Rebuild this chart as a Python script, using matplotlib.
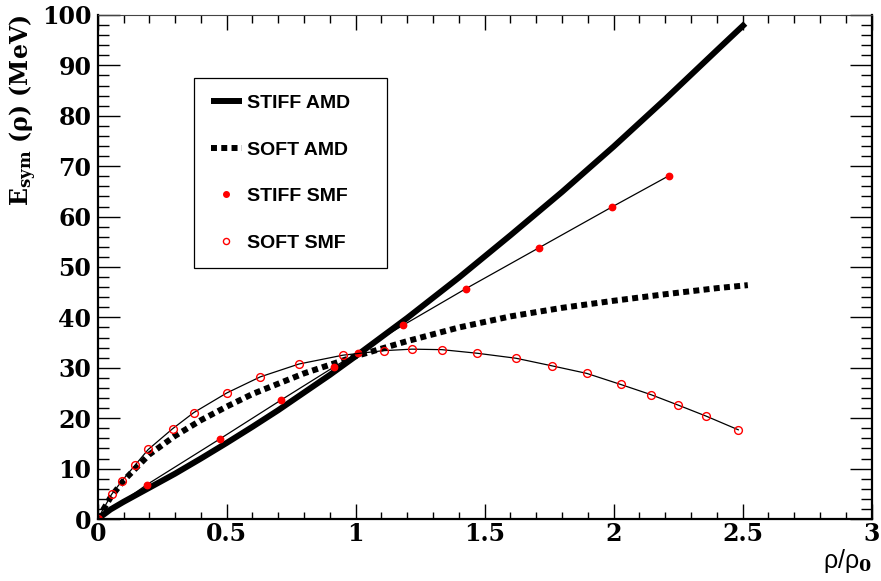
import matplotlib.pyplot as plt
from matplotlib.lines import Line2D

# ── values ────────────────────────────────────────────────────
rho_amd_stiff = [0, 0.05, 0.1, 0.2, 0.3, 0.4, 0.5, 0.6, 0.7, 0.8, 0.9, 1.0,
                 1.2, 1.4, 1.6, 1.8, 2.0, 2.2, 2.4, 2.51]
esym_amd_stiff = [0, 1.9, 3.4, 6.2, 9.0, 12.0, 15.1, 18.3, 21.6, 25.1, 28.6, 32.3,
                  39.9, 47.9, 56.3, 64.9, 73.9, 83.3, 93.0, 98.3]

rho_amd_soft = [0, 0.05, 0.1, 0.2, 0.3, 0.4, 0.5, 0.6, 0.8, 1.0,
                1.2, 1.4, 1.6, 1.8, 2.0, 2.2, 2.4, 2.52]
esym_amd_soft = [0, 4.3, 7.6, 12.8, 16.5, 19.6, 22.3, 24.8, 28.9, 32.3,
                 35.3, 38.0, 40.2, 41.9, 43.3, 44.6, 45.8, 46.4]

rho_smf_stiff = [0, 0.19, 0.474, 0.709, 0.917, 1.008, 1.182, 1.427, 1.71, 1.993, 2.214]
esym_smf_stiff = [0, 6.8, 15.9, 23.55, 30.2, 33.0, 38.4, 45.7, 53.8, 61.9, 68.1]

rho_smf_soft = [0, 0.054, 0.093, 0.145, 0.196, 0.29, 0.372, 0.5, 0.63, 0.78, 0.95,
                1.108, 1.218, 1.334, 1.469, 1.621, 1.76, 1.895, 2.027, 2.143,
                2.25, 2.359, 2.483]
esym_smf_soft = [0, 4.9, 7.5, 10.7, 13.8, 17.9, 21.1, 25.0, 28.2, 30.75, 32.5,
                 33.4, 33.7, 33.6, 32.9, 31.9, 30.4, 28.9, 26.7, 24.7,
                 22.6, 20.4, 17.7]

x_ticks = [0, 0.5, 1, 1.5, 2, 2.5, 3]
x_ticklabels = ['0', '0.5', '1', '1.5', '2', '2.5', '3']
y_ticks = list(range(0, 101, 10))

plt.rcParams['mathtext.fontset'] = 'dejavuserif'

fig = plt.figure(figsize=(8.81, 5.81), dpi=100)
ax = fig.add_axes([0.1109, 0.1067, 0.8785, 0.8675])

dots = (0, (1.0, 0.72))
ax.plot(rho_amd_stiff, esym_amd_stiff, color='black', lw=4.3, solid_capstyle='butt')
ax.plot(rho_amd_soft, esym_amd_soft, color='black', lw=4.3, ls=dots)

ax.plot(rho_smf_stiff, esym_smf_stiff, color='black', lw=0.9,
        marker='o', ms=4.6, mfc='red', mec='red')
ax.plot(rho_smf_soft, esym_smf_soft, color='black', lw=0.9,
        marker='o', ms=5.6, mfc='none', mec='red', mew=1.0)

ax.set_xlim(0, 3)
ax.set_ylim(0, 100)
ax.set_xticks(x_ticks)
ax.set_xticklabels(x_ticklabels)
ax.set_yticks(y_ticks)
ax.set_xticks([i / 10 for i in range(31)], minor=True)
ax.set_yticks(list(range(0, 101, 2)), minor=True)

ax.tick_params(axis='both', which='both', direction='in', top=True, right=True, width=1.0)
ax.tick_params(axis='x', which='major', length=11, pad=2)
ax.tick_params(axis='x', which='minor', length=5.4)
ax.tick_params(axis='y', which='major', length=16, pad=4.5)
ax.tick_params(axis='y', which='minor', length=8)

for lab in ax.get_xticklabels() + ax.get_yticklabels():
    lab.set_family('DejaVu Serif')
    lab.set_fontweight('bold')
    lab.set_fontsize(17)

for side in ['left', 'bottom', 'right']:
    ax.spines[side].set_linewidth(1.6)
ax.spines['top'].set_linewidth(0.8)
ax.spines['top'].set_color('#444444')

ax.set_ylabel(r'$\mathbf{E_{sym}}$ (ρ) (MeV)', loc='top', family='DejaVu Serif',
              fontweight='bold', fontsize=17)
ax.yaxis.set_label_coords(-0.076, 1.0)
ax.set_xlabel(r'ρ/ρ$_{\mathbf{0}}$', loc='right', family='Liberation Sans',
              fontsize=18, labelpad=1)

# ── legend ─────────────────────────────────────────────────────
handles = [
    Line2D([], [], color='black', lw=4.3, solid_capstyle='butt'),
    Line2D([], [], color='black', lw=4.3, ls=dots),
    Line2D([], [], ls='none', marker='o', ms=4.0, mfc='red', mec='red'),
    Line2D([], [], ls='none', marker='o', ms=4.4, mfc='none', mec='red', mew=1.0),
]
labels = ['STIFF AMD', 'SOFT AMD', 'STIFF SMF', 'SOFT SMF']
leg = ax.legend(handles, labels, loc='upper left', bbox_to_anchor=(0.1244, 0.5, 0.2494, 0.375),
                mode='expand', borderaxespad=0, borderpad=0.85, labelspacing=1.49,
                handlelength=1.6, handletextpad=0.3, fancybox=False,
                edgecolor='black', framealpha=1,
                prop={'family': 'Liberation Sans', 'weight': 'bold', 'size': 14})
leg.get_frame().set_linewidth(0.9)

plt.savefig('out.png', dpi=100)
